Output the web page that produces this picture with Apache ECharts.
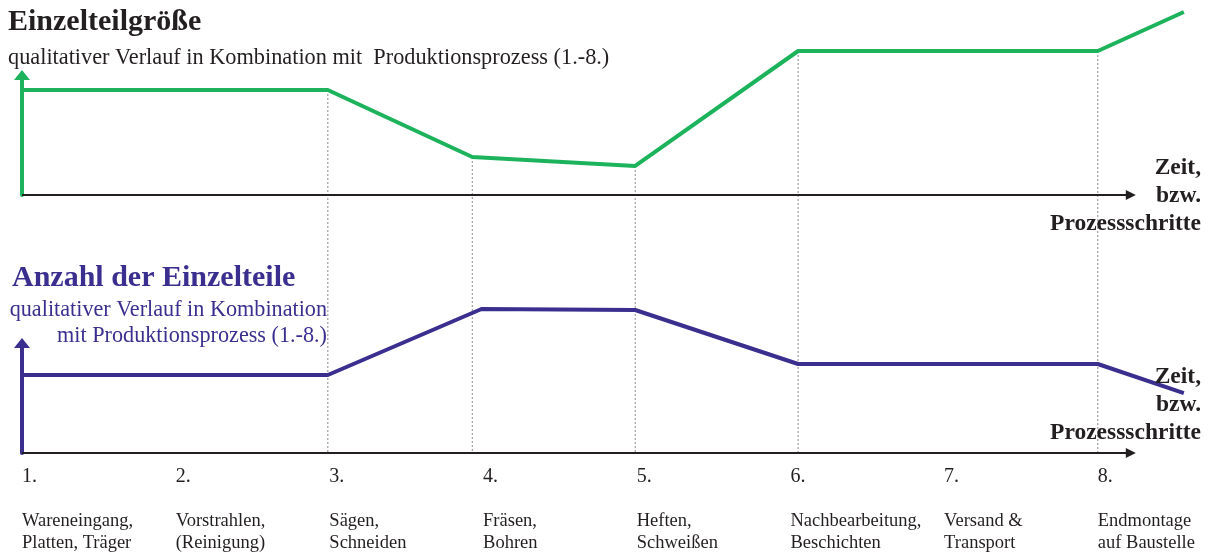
<!DOCTYPE html>
<html>
<head>
<meta charset="utf-8">
<title>Einzelteilgröße / Anzahl der Einzelteile</title>
<script src="https://cdn.jsdelivr.net/npm/echarts@6/dist/echarts.min.js"></script>
<style>
  html, body { margin: 0; padding: 0; background: #fff; }
  #main { width: 1214px; height: 554px; }
</style>
</head>
<body>
<div id="main"></div>
<script>
// Prozessschritte 1.-8.
const steps = [1, 2, 3, 4, 5, 6, 7, 8]
const stepLabels = ['1.', '2.', '3.', '4.', '5.', '6.', '7.', '8.']
const stepNames = [
  'Wareneingang,\nPlatten, Träger',
  'Vorstrahlen,\n(Reinigung)',
  'Sägen,\nSchneiden',
  'Fräsen,\nBohren',
  'Heften,\nSchweißen',
  'Nachbearbeitung,\nBeschichten',
  'Versand &\nTransport',
  'Endmontage\nauf Baustelle'
]

// Einzelteilgröße (qualitativ, 0-100 = Höhe der Achse)
const groesseX = [1, 2.99, 3.93, 4.99, 6.05, 8.0, 8.56]
const groesseY = [87.5, 87.5, 31.7, 24.2, 120, 120, 152.5]

// Anzahl der Einzelteile (qualitativ)
const anzahlX = [1, 2.99, 3.99, 4.99, 6.05, 8.0, 8.56]
const anzahlY = [70.9, 70.9, 130.9, 130, 80.9, 80.9, 54.5]

// Stützstellen, an denen die gepunkteten Linien nach unten gehen
const dropIdx = [1, 2, 3, 4, 5]

// Zeitachse (Pfeil) von ... bis, in Prozessschritten
const timeFrom = 1
const timeTo = 8.215

const GREEN = '#1db35c'
const PURPLE = '#3a2f8f'
const TEXT = '#231f20'
const FONT = '"Liberation Serif", "Times New Roman", serif'

const chart = echarts.init(document.getElementById('main'))

function zip(xs, ys) {
  return xs.map((x, i) => [x, ys[i]])
}

function timeAxis(gridIndex, withLabels) {
  return {
    type: 'value',
    gridIndex: gridIndex,
    min: 1,
    max: 8.6,
    interval: 1,
    axisLine: { show: false },
    axisTick: { show: false },
    splitLine: { show: false },
    axisLabel: {
      show: withLabels,
      align: 'left',
      margin: 12,
      fontFamily: FONT,
      color: TEXT,
      formatter: v => {
        let i = steps.indexOf(v)
        if (i < 0) return ''
        let name = stepNames[i].split('\n').map(s => '{d|' + s + '}').join('\n')
        return '{n|' + stepLabels[i] + '}\n{g| }\n' + name
      },
      rich: {
        n: { fontFamily: FONT, fontSize: 20, lineHeight: 24, color: TEXT },
        g: { fontSize: 10, lineHeight: 21 },
        d: { fontFamily: FONT, fontSize: 18.5, lineHeight: 22, color: TEXT }
      }
    }
  }
}

function valueAxis(gridIndex, color) {
  return {
    type: 'value',
    gridIndex: gridIndex,
    min: 0,
    max: 100,
    axisLine: {
      show: true,
      symbol: ['none', 'triangle'],
      symbolSize: [16, 10],
      lineStyle: { color: color, width: 4 }
    },
    axisTick: { show: false },
    axisLabel: { show: false },
    splitLine: { show: false }
  }
}

// schwarze Zeitachse mit Pfeilspitze
function timeArrow() {
  return {
    silent: true,
    symbol: ['none', 'triangle'],
    symbolSize: 10,
    label: { show: false },
    emphasis: { disabled: true },
    lineStyle: { color: TEXT, width: 2, type: 'solid' },
    data: [[{ coord: [timeFrom, 0] }, { coord: [timeTo, 0] }]]
  }
}

chart.setOption({
  animation: false,
  backgroundColor: '#fff',
  textStyle: { fontFamily: FONT },
  grid: [
    { left: 22, right: 24, top: 75, height: 120 },
    { left: 22, right: 24, top: 343, height: 110 }
  ],
  xAxis: [timeAxis(0, false), timeAxis(1, true)],
  yAxis: [valueAxis(0, GREEN), valueAxis(1, PURPLE)],
  series: [
    {
      name: 'Einzelteilgröße',
      type: 'line',
      xAxisIndex: 0,
      yAxisIndex: 0,
      data: zip(groesseX, groesseY),
      showSymbol: false,
      clip: false,
      z: 3,
      lineStyle: { color: GREEN, width: 4 },
      markLine: timeArrow()
    },
    {
      name: 'Anzahl der Einzelteile',
      type: 'line',
      xAxisIndex: 1,
      yAxisIndex: 1,
      data: zip(anzahlX, anzahlY),
      showSymbol: false,
      clip: false,
      z: 3,
      lineStyle: { color: PURPLE, width: 4 },
      markLine: timeArrow()
    }
  ]
})

// gepunktete Linien von der grünen Kurve bis zur unteren Zeitachse
let dropLines = dropIdx.map(i => {
  let p1 = chart.convertToPixel({ gridIndex: 0 }, [groesseX[i], groesseY[i]])
  let p2 = chart.convertToPixel({ gridIndex: 1 }, [groesseX[i], 0])
  return {
    type: 'line',
    z: 1,
    shape: { x1: p1[0], y1: p1[1], x2: p2[0], y2: p2[1] },
    style: { stroke: '#8a8a8a', lineWidth: 1, lineDash: [2, 2] }
  }
})

function text(x, y, str, opts) {
  return {
    type: 'text',
    x: x,
    y: y,
    z: 5,
    style: Object.assign({
      text: str,
      fontFamily: FONT,
      fill: TEXT,
      verticalAlign: 'middle'
    }, opts)
  }
}

let labels = [
  text(8, 22, 'Einzelteilgröße', { fontSize: 30, fontWeight: 'bold' }),
  text(8, 58, 'qualitativer Verlauf in Kombination mit  Produktionsprozess (1.-8.)', { fontSize: 22.3 }),
  text(1201, 154, 'Zeit,\nbzw.\nProzessschritte', {
    fontSize: 23.5, fontWeight: 'bold', align: 'right', verticalAlign: 'top', lineHeight: 28
  }),
  text(12, 278, 'Anzahl der Einzelteile', { fontSize: 30, fontWeight: 'bold', fill: PURPLE }),
  text(327, 297, 'qualitativer Verlauf in Kombination\nmit Produktionsprozess (1.-8.)', {
    fontSize: 22.2, fill: PURPLE, align: 'right', verticalAlign: 'top', lineHeight: 26
  }),
  text(1201, 363, 'Zeit,\nbzw.\nProzessschritte', {
    fontSize: 23.5, fontWeight: 'bold', align: 'right', verticalAlign: 'top', lineHeight: 28
  })
]

chart.setOption({ graphic: labels.concat(dropLines) })
</script>
</body>
</html>
